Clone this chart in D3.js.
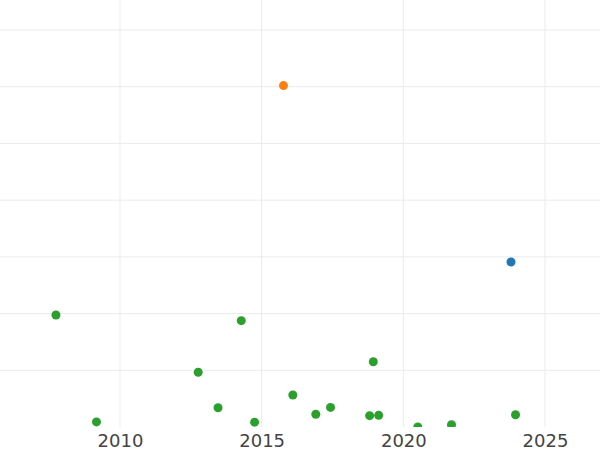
<!DOCTYPE html>
<html>
<head>
<meta charset="utf-8">
<script src="https://cdn.jsdelivr.net/npm/d3@7"></script>
<style>
  body { margin: 0; background: #fff; }
  svg { display: block; }
</style>
</head>
<body>
<script>
const width = 600,
      height = 450,
      plotBottom = 427;

// series: year (decimal) and value
const greenYears  = [2007.74, 2009.17, 2012.76, 2013.46, 2014.28, 2014.75, 2016.10, 2016.91, 2017.43, 2018.81, 2018.94, 2019.13, 2020.51, 2021.70, 2023.96];
const greenValues = [1.975, 0.09, 0.965, 0.34, 1.875, 0.085, 0.565, 0.225, 0.345, 0.20, 1.15, 0.205, 0.0, 0.04, 0.215];
const orangeYears  = [2015.77];
const orangeValues = [6.02];
const blueYears  = [2023.80];
const blueValues = [2.91];

const xTicks = [2010, 2015, 2020, 2025];
const yTicks = [1, 2, 3, 4, 5, 6, 7];

const series = [
  { name: "green",  color: "#2ca02c", years: greenYears,  values: greenValues },
  { name: "orange", color: "#ff7f0e", years: orangeYears, values: orangeValues },
  { name: "blue",   color: "#1f77b4", years: blueYears,   values: blueValues }
];

const x = d3.scaleLinear()
  .domain([2010 - 120 / (425 / 15), 2010 + 480 / (425 / 15)])
  .range([0, width]);

const y = d3.scaleLinear()
  .domain([0, 7])
  .range([plotBottom, 30]);

const svg = d3.select("body").append("svg")
  .attr("width", width)
  .attr("height", height);

svg.append("clipPath")
  .attr("id", "plot-clip")
  .append("rect")
  .attr("x", 0)
  .attr("y", 0)
  .attr("width", width)
  .attr("height", plotBottom);

// grid
const grid = svg.append("g").attr("stroke", "#ebebeb").attr("stroke-width", 1);

grid.selectAll(".hgrid")
  .data(yTicks)
  .join("line")
  .attr("class", "hgrid")
  .attr("x1", 0)
  .attr("x2", width)
  .attr("y1", d => y(d))
  .attr("y2", d => y(d));

grid.selectAll(".vgrid")
  .data(xTicks)
  .join("line")
  .attr("class", "vgrid")
  .attr("x1", d => x(d))
  .attr("x2", d => x(d))
  .attr("y1", 0)
  .attr("y2", plotBottom);

// x axis labels only
const xAxis = svg.append("g")
  .attr("transform", `translate(0,${plotBottom})`)
  .call(d3.axisBottom(x).tickValues(xTicks).tickFormat(d3.format("d")).tickSize(0).tickPadding(7));

xAxis.select(".domain").remove();
xAxis.selectAll("text")
  .attr("fill", "#444")
  .style("font-family", "DejaVu Sans")
  .style("font-size", "18px");

// points
const pts = svg.append("g").attr("clip-path", "url(#plot-clip)");

series.forEach(s => {
  pts.append("g")
    .selectAll("circle")
    .data(s.years.map((yr, i) => [yr, s.values[i]]))
    .join("circle")
    .attr("cx", d => x(d[0]))
    .attr("cy", d => y(d[1]))
    .attr("r", 4.5)
    .attr("fill", s.color);
});
</script>
</body>
</html>
